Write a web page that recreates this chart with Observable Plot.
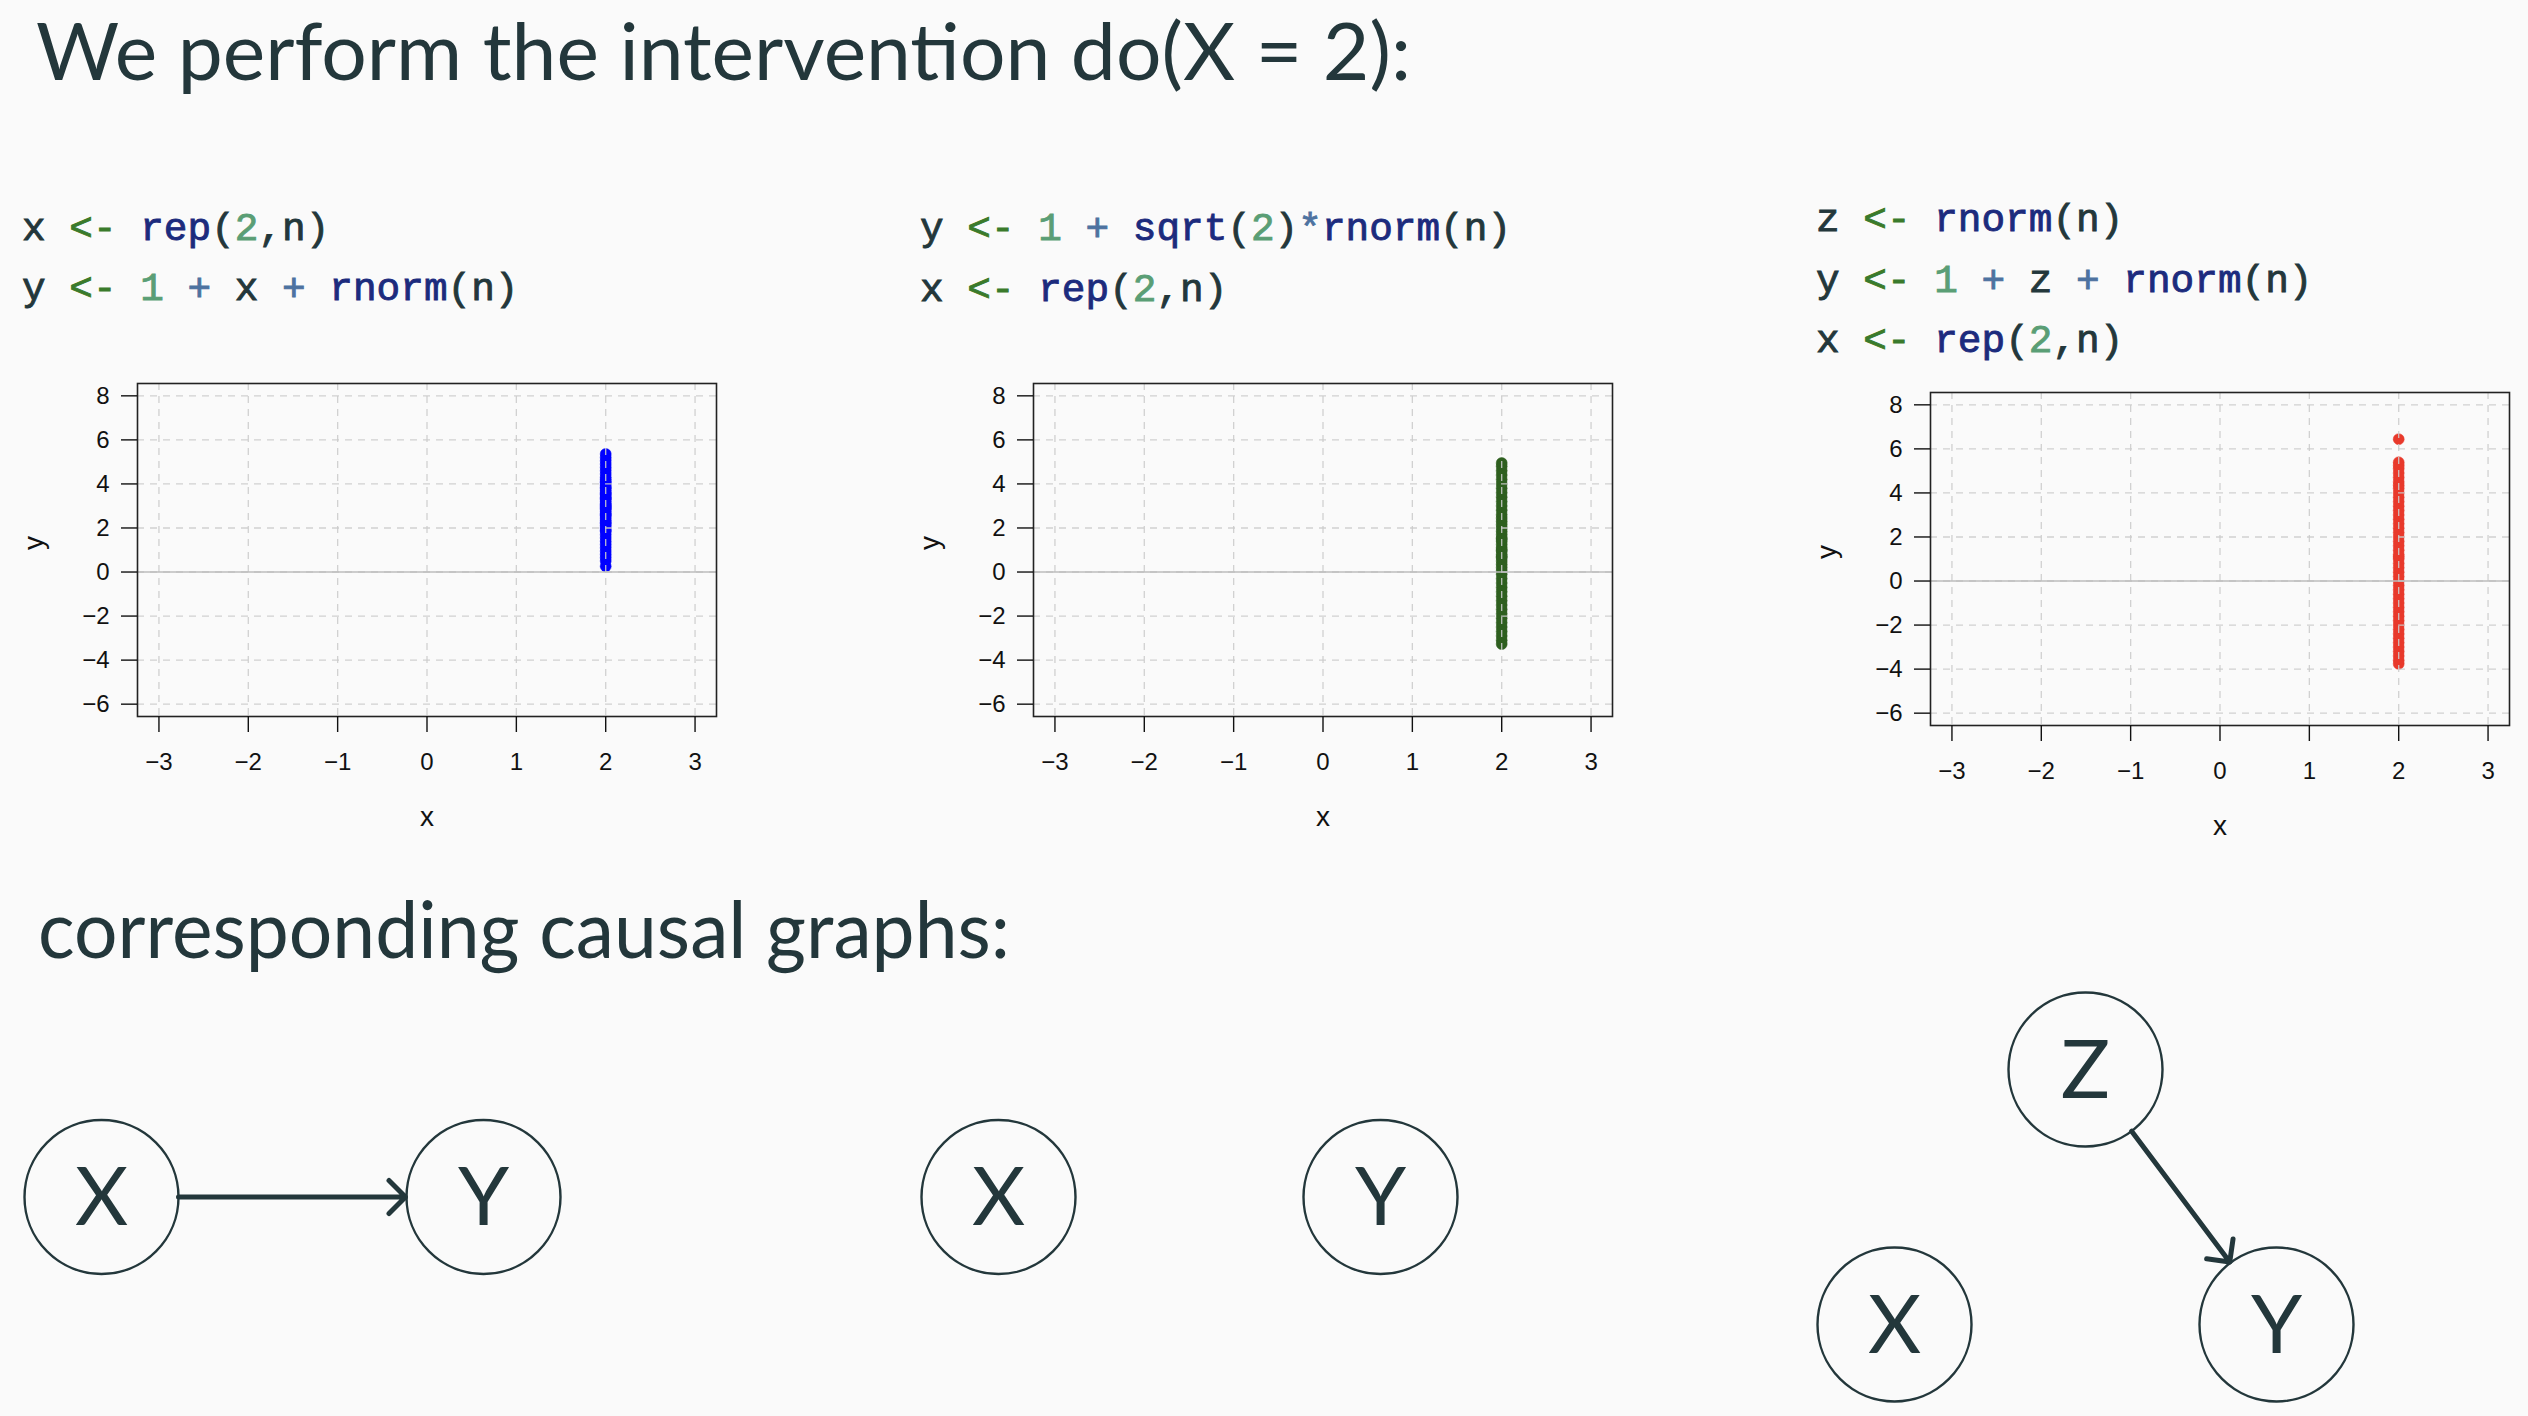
<!DOCTYPE html>
<html><head><meta charset="utf-8">
<script src="https://cdn.jsdelivr.net/npm/d3@7"></script>
<script src="https://cdn.jsdelivr.net/npm/@observablehq/plot@0.6"></script>
<style>
html,body{margin:0;padding:0;background:#fafafa;}
#page{position:relative;width:2528px;height:1416px;overflow:hidden;background:#fafafa;}
.abs{position:absolute;}
</style></head><body><div id="page"></div>
<script>
// ---------------- data ----------------
const titleText = "We perform the intervention do(X = 2):";
const subtitleText = "corresponding causal graphs:";

const codeLines1 = ["x <- rep(2,n)", "y <- 1 + x + rnorm(n)"];
const codeLines2 = ["y <- 1 + sqrt(2)*rnorm(n)", "x <- rep(2,n)"];
const codeLines3 = ["z <- rnorm(n)", "y <- 1 + z + rnorm(n)", "x <- rep(2,n)"];

const xTicks = [-3, -2, -1, 0, 1, 2, 3];
const yTicks = [-6, -4, -2, 0, 2, 4, 6, 8];
const doX = 2;

const yBlue = [5.36, 5.2, 5.05, 4.9, 4.75, 4.6, 4.45, 4.3, 4.2, 4.05, 3.95, 3.85, 3.7, 3.6, 3.5,
  3.4, 3.3, 3.2, 3.1, 3.0, 2.95, 2.85, 2.75, 2.65, 2.55, 2.45, 2.35, 2.25, 2.1, 2.0, 1.85, 1.7,
  1.55, 1.4, 1.25, 1.1, 0.95, 0.8, 0.65, 0.5, 0.26, 3.05, 2.9, 3.35, 2.6, 3.8, 2.2, 4.1, 1.9, 3.55];
const yGreen = [4.95, 4.8, 4.6, 4.4, 4.2, 4.0, 3.8, 3.6, 3.4, 3.2, 3.0, 2.8, 2.6, 2.45, 2.3, 2.15,
  2.0, 1.85, 1.7, 1.55, 1.4, 1.25, 1.1, 0.95, 0.8, 0.65, 0.5, 0.35, 0.2, 0.05, -0.1, -0.3, -0.5,
  -0.7, -0.9, -1.1, -1.3, -1.5, -1.7, -1.9, -2.1, -2.3, -2.5, -2.7, -2.9, -3.1, -3.27, 1.0, 0.7, 1.5];
const yRed = [6.44, 5.39, 5.25, 5.1, 4.9, 4.7, 4.5, 4.35, 4.2, 4.0, 3.8, 3.6, 3.4, 3.2, 3.0, 2.8,
  2.6, 2.4, 2.2, 2.0, 1.8, 1.6, 1.4, 1.2, 1.0, 0.8, 0.6, 0.4, 0.2, 0.0, -0.2, -0.4, -0.6, -0.8,
  -1.0, -1.2, -1.4, -1.6, -1.8, -2.0, -2.2, -2.4, -2.6, -2.8, -3.0, -3.2, -3.4, -3.6, -3.76, 1.1];

const graph1Nodes = [{node: "X", col: 0, row: 0.5}, {node: "Y", col: 2, row: 0.5}];
const graph1Edges = [{from: "X", to: "Y"}];
const graph2Nodes = [{node: "X", col: 0, row: 0.5}, {node: "Y", col: 2, row: 0.5}];
const graph2Edges = [];
const graph3Nodes = [{node: "Z", col: 1, row: 0}, {node: "X", col: 0, row: 1}, {node: "Y", col: 2, row: 1}];
const graph3Edges = [{from: "Z", to: "Y"}];

// ---------------- styles / layout ----------------
const ink = "#23373b";
const pointColors = ["#0000ff", "#2e5f1f", "#e8392b"];
const tokenColors = {id: ink, assign: "#3a7a2b", fn: "#1c2b7d", num: "#5a9e75", op: "#4d72a0"};
const colLeft = [0, 896.6, 1793.2];
const plotTop = [362.7, 362.7, 371.7];
const codeLeft = [22, 920, 1816];
const codeBase = [239.5, 240, 231];
const codeStep = 60.5;

const page = document.getElementById("page");

// ---------------- text layer ----------------
const svg = d3.select(page).append("svg").attr("class", "abs")
  .attr("width", 2528).attr("height", 1416).style("left", 0).style("top", 0);

svg.append("text").attr("x", 36).attr("y", 80).attr("font-family", "Lato")
  .attr("font-size", 79).attr("fill", ink).attr("textLength", 1375)
  .attr("lengthAdjust", "spacingAndGlyphs").text(titleText);
svg.append("text").attr("x", 38).attr("y", 958).attr("font-family", "Lato")
  .attr("font-size", 79).attr("fill", ink).attr("textLength", 972)
  .attr("lengthAdjust", "spacingAndGlyphs").text(subtitleText);

function classify(tok) {
  if (tok === "<-") return "assign";
  if (/^(rep|rnorm|sqrt)$/.test(tok)) return "fn";
  if (/^\d+$/.test(tok)) return "num";
  if (/^[+*]$/.test(tok)) return "op";
  return "id";
}
[codeLines1, codeLines2, codeLines3].forEach((lines, g) => {
  lines.forEach((line, i) => {
    const t = svg.append("text").attr("x", codeLeft[g]).attr("y", codeBase[g] + i * codeStep)
      .attr("font-family", "Liberation Mono").attr("font-size", 39.4)
      .attr("xml:space", "preserve").style("white-space", "pre");
    const toks = line.match(/<-|[A-Za-z_]+|\d+|[+*]|\s+|./g);
    toks.forEach(tok => {
      const c = tokenColors[classify(tok)];
      t.append("tspan").attr("fill", c).attr("stroke", c).attr("stroke-width", 0.9).text(tok);
    });
  });
});

// ---------------- scatter plots ----------------
[yBlue, yGreen, yRed].forEach((ys, g) => {
  const chart = Plot.plot({
    width: 729, height: 493,
    marginLeft: 130, marginRight: 20, marginTop: 20, marginBottom: 140,
    style: {background: "transparent", fontFamily: "Liberation Sans", fontSize: "24px", color: "#111"},
    x: {domain: [-3.24, 3.24]},
    y: {domain: [-6.56, 8.56]},
    marks: [
      Plot.dot(ys, {x: () => doX, y: d => d, r: 5.5, fill: pointColors[g], stroke: pointColors[g], strokeWidth: 0.5}),
      Plot.gridX(xTicks, {stroke: "#cccccc", strokeOpacity: 0.9, strokeWidth: 1.3, strokeDasharray: "7,6"}),
      Plot.gridY(yTicks, {stroke: "#cccccc", strokeOpacity: 0.9, strokeWidth: 1.3, strokeDasharray: "7,6"}),
      Plot.ruleY([0], {stroke: "#bdbdbd", strokeWidth: 1.6}),
      Plot.frame({stroke: "#222", strokeWidth: 1.6}),
      Plot.axisX(xTicks, {tickSize: 16, tickPadding: 20, label: null, fontSize: 24, strokeWidth: 1.4}),
      Plot.axisY(yTicks, {tickSize: 16, tickPadding: 12, label: null, fontSize: 24, strokeWidth: 1.4}),
      Plot.text(["x"], {frameAnchor: "bottom", dy: 109, fontSize: 28}),
      Plot.text(["y"], {frameAnchor: "left", dx: -103, rotate: -90, fontSize: 28})
    ]
  });
  chart.classList.add("abs");
  chart.style.left = (colLeft[g] + 6.7) + "px";
  chart.style.top = plotTop[g] + "px";
  page.appendChild(chart);
});

// ---------------- causal graphs ----------------
[[graph1Nodes, graph1Edges], [graph2Nodes, graph2Edges], [graph3Nodes, graph3Edges]].forEach(([nodes, edges], g) => {
  const pos = Object.fromEntries(nodes.map(n => [n.node, n]));
  const chart = Plot.plot({
    width: 897, height: 456,
    style: {background: "transparent"},
    x: {domain: [0, 2], range: [101, 483], axis: null},
    y: {domain: [0, 1], range: [109, 364], axis: null},
    marks: [
      Plot.arrow(edges, {
        x1: d => pos[d.from].col, y1: d => pos[d.from].row,
        x2: d => pos[d.to].col, y2: d => pos[d.to].row,
        insetStart: 77, insetEnd: 78, stroke: ink, strokeWidth: 5, headAngle: 90, headLength: 7
      }),
      Plot.dot(nodes, {x: "col", y: "row", r: 77, stroke: ink, strokeWidth: 2.4, fill: "none"}),
      Plot.text(nodes, {x: "col", y: "row", text: "node", fontSize: 82, fill: ink, fontFamily: "Lato", dy: 2})
    ]
  });
  chart.classList.add("abs");
  chart.style.left = colLeft[g] + "px";
  chart.style.top = "960px";
  page.appendChild(chart);
});
</script></body></html>
